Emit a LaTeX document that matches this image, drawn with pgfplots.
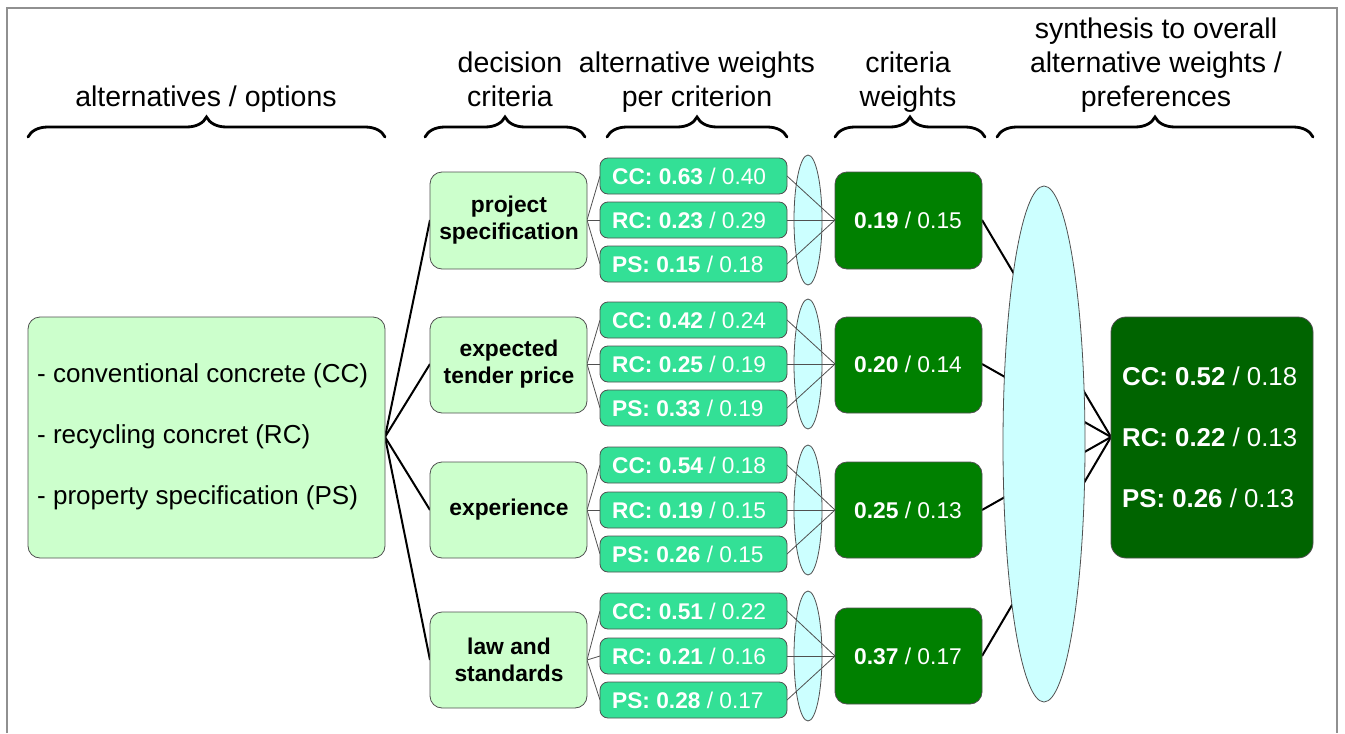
\documentclass[border=0pt]{standalone}
\usepackage{pgfplots}
\pgfplotsset{compat=1.18}
\usepackage{fontspec}
\setmainfont{Liberation Sans}
\usetikzlibrary{decorations.pathreplacing}
\definecolor{lg}{HTML}{CCFFCC}
\definecolor{mg}{HTML}{33E096}
\definecolor{dg}{HTML}{008000}
\definecolor{fg}{HTML}{006400}
\definecolor{cy}{HTML}{CCFFFF}
\definecolor{bd}{HTML}{505050}
\definecolor{fr}{HTML}{909090}
\tikzset{
  hd/.style={anchor=base, inner sep=0pt, font=\fontsize{28.5}{32}\selectfont},
  br/.style={decorate, decoration={brace, amplitude=20pt, aspect=0.5}, line width=2.8pt, line cap=round},
  tn/.style={bd, line width=0.8pt},
  el/.style={bd, fill=cy, line width=0.8pt},
  al/.style={anchor=west, inner sep=0pt, font=\fontsize{26}{30}\selectfont},
  cr/.style={align=center, inner sep=0pt, font=\fontsize{22.8}{27}\selectfont\bfseries},
  wt/.style={inner sep=0pt, text=white, font=\fontsize{22.8}{26}\selectfont},
  sb/.style={anchor=west, inner sep=0pt, text=white, font=\fontsize{22.7}{26}\selectfont},
  sbox/.style={bd, fill=mg, line width=0.8pt, rounded corners=8pt},
  lbox/.style={bd, fill=lg, line width=0.8pt, rounded corners=12pt},
  dbox/.style={bd, fill=dg, line width=0.8pt, rounded corners=12pt},
  fn/.style={anchor=west, inner sep=0pt, text=white, font=\fontsize{25.8}{30}\selectfont},
}
\begin{document}
\begin{tikzpicture}
\begin{axis}[scale only axis, width=1345pt, height=733pt,
  xmin=0, xmax=1345, ymin=0, ymax=733, y dir=reverse,
  axis lines=none, clip=false]
\path (0,0) rectangle (1345,733);
\draw[fr, line width=1.2pt] (7,733) -- (7,8) -- (1337,8) -- (1337,733);
% headings
\node[hd] at (206,106) {alternatives / options};
\node[hd] at (510,72) {decision};
\node[hd] at (510,106) {criteria};
\node[hd] at (697,72) {alternative weights};
\node[hd] at (697,106) {per criterion};
\node[hd] at (908,72) {criteria};
\node[hd] at (908,106) {weights};
\node[hd] at (1156,38) {synthesis to overall};
\node[hd] at (1156,72) {alternative weights /};
\node[hd] at (1156,106) {preferences};
% braces
\draw[br] (28,137) -- (385,137);
\draw[br] (425,137) -- (585,137);
\draw[br] (607,137) -- (787,137);
\draw[br] (835,137) -- (985,137);
\draw[br] (997,137) -- (1313,137);
% thick connections
\addplot[black, line width=2pt, no markers] coordinates {(385,437) (430,220)};
\addplot[black, line width=2pt, no markers] coordinates {(385,437) (430,364)};
\addplot[black, line width=2pt, no markers] coordinates {(385,437) (430,510)};
\addplot[black, line width=2pt, no markers] coordinates {(385,437) (430,660)};
\addplot[black, line width=2pt, no markers] coordinates {(982,220) (1111,437)};
\addplot[black, line width=2pt, no markers] coordinates {(982,364) (1111,437)};
\addplot[black, line width=2pt, no markers] coordinates {(982,510) (1111,437)};
\addplot[black, line width=2pt, no markers] coordinates {(982,656) (1111,437)};
% ellipses
\draw[el] (808,220) ellipse [x radius=14pt, y radius=65pt];
\draw[el] (808,364) ellipse [x radius=14pt, y radius=65pt];
\draw[el] (808,510) ellipse [x radius=14pt, y radius=65pt];
\draw[el] (808,656) ellipse [x radius=14pt, y radius=65pt];
\draw[el] (1044,444) ellipse [x radius=41pt, y radius=258pt];
% thin connections group 1
\draw[tn] (587,220) -- (600,176); \draw[tn] (587,220) -- (600,220); \draw[tn] (587,220) -- (600,264);
\draw[tn] (787,176) -- (835,220); \draw[tn] (787,220) -- (835,220); \draw[tn] (787,264) -- (835,220);
% group 2
\draw[tn] (587,364) -- (600,320); \draw[tn] (587,364) -- (600,364); \draw[tn] (587,364) -- (600,408);
\draw[tn] (787,320) -- (835,364); \draw[tn] (787,364) -- (835,364); \draw[tn] (787,408) -- (835,364);
% group 3
\draw[tn] (587,510) -- (600,465); \draw[tn] (587,510) -- (600,510); \draw[tn] (587,510) -- (600,554);
\draw[tn] (787,465) -- (835,510); \draw[tn] (787,510) -- (835,510); \draw[tn] (787,554) -- (835,510);
% group 4
\draw[tn] (587,660) -- (600,611); \draw[tn] (587,660) -- (600,656); \draw[tn] (587,660) -- (600,700);
\draw[tn] (787,611) -- (835,656); \draw[tn] (787,656) -- (835,656); \draw[tn] (787,700) -- (835,656);
% alternatives box
\draw[lbox] (28,317) rectangle (385,558);
\node[al] at (37,376) {- conventional concrete (CC)};
\node[al] at (37,437) {- recycling concret (RC)};
\node[al] at (37,498) {- property specification (PS)};
% criteria boxes and weight boxes
\draw[lbox] (430,172) rectangle (587,269);
\draw[lbox] (430,317) rectangle (587,413);
\draw[lbox] (430,462) rectangle (587,558);
\draw[lbox] (430,612) rectangle (587,708);
\draw[dbox] (835,172) rectangle (982,269);
\draw[dbox] (835,317) rectangle (982,413);
\draw[dbox] (835,462) rectangle (982,558);
\draw[dbox] (835,608) rectangle (982,704);
\node[cr] at (509,220) {project\\specification};
\node[cr] at (509,364) {expected\\tender price};
\node[cr] at (509,510) {experience};
\node[cr] at (509,660) {law and\\standards};
\node[wt] at (908,220) {\textbf{0.19} / 0.15};
\node[wt] at (908,364) {\textbf{0.20} / 0.14};
\node[wt] at (908,510) {\textbf{0.25} / 0.13};
\node[wt] at (908,656) {\textbf{0.37} / 0.17};
% sub boxes
\draw[sbox] (600,158) rectangle (787,194); \node[sb] at (612,176) {\textbf{CC: 0.63} / 0.40};
\draw[sbox] (600,202) rectangle (787,238); \node[sb] at (612,220) {\textbf{RC: 0.23} / 0.29};
\draw[sbox] (600,246) rectangle (787,282); \node[sb] at (612,264) {\textbf{PS: 0.15} / 0.18};
\draw[sbox] (600,302) rectangle (787,338); \node[sb] at (612,320) {\textbf{CC: 0.42} / 0.24};
\draw[sbox] (600,346) rectangle (787,382); \node[sb] at (612,364) {\textbf{RC: 0.25} / 0.19};
\draw[sbox] (600,390) rectangle (787,426); \node[sb] at (612,408) {\textbf{PS: 0.33} / 0.19};
\draw[sbox] (600,447) rectangle (787,483); \node[sb] at (612,465) {\textbf{CC: 0.54} / 0.18};
\draw[sbox] (600,492) rectangle (787,528); \node[sb] at (612,510) {\textbf{RC: 0.19} / 0.15};
\draw[sbox] (600,536) rectangle (787,572); \node[sb] at (612,554) {\textbf{PS: 0.26} / 0.15};
\draw[sbox] (600,593) rectangle (787,629); \node[sb] at (612,611) {\textbf{CC: 0.51} / 0.22};
\draw[sbox] (600,638) rectangle (787,674); \node[sb] at (612,656) {\textbf{RC: 0.21} / 0.16};
\draw[sbox] (600,682) rectangle (787,718); \node[sb] at (612,700) {\textbf{PS: 0.28} / 0.17};
% final box
\draw[bd, fill=fg, line width=0.8pt, rounded corners=15pt] (1111,317) rectangle (1313,558);
\node[fn] at (1122,376) {\textbf{CC: 0.52} / 0.18};
\node[fn] at (1122,437) {\textbf{RC: 0.22} / 0.13};
\node[fn] at (1122,498) {\textbf{PS: 0.26} / 0.13};
\end{axis}
\end{tikzpicture}
\end{document}
